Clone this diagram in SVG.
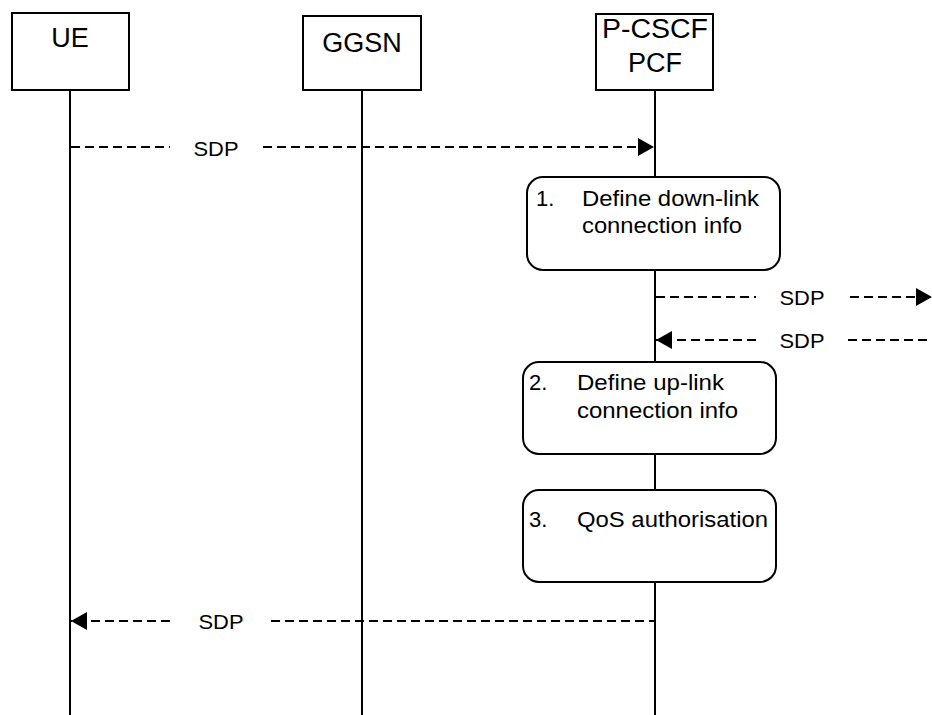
<svg xmlns="http://www.w3.org/2000/svg" width="932" height="715" viewBox="0 0 932 715">
<style>
.box{fill:#fff;stroke:#000;stroke-width:2}
.life{stroke:#000;stroke-width:2;fill:none}
.msg{stroke:#000;stroke-width:1.8;stroke-dasharray:9,5;fill:none}
.t{font-family:"Liberation Sans",Arial,sans-serif;fill:#000}
.big{font-size:27px;text-anchor:middle}
.mid{font-size:22px}
.lbl{font-size:21px;text-anchor:middle}
</style>
<defs>
<marker id="ah" markerWidth="16" markerHeight="18" refX="16" refY="9" orient="auto" markerUnits="userSpaceOnUse">
<path d="M0,0 L16,9 L0,18 Z" fill="#000"/>
</marker>
</defs>
<g id="lifelines">
<line class="life" x1="70" y1="90" x2="70" y2="715"/>
<line class="life" x1="362" y1="90" x2="362" y2="715"/>
<line class="life" x1="655" y1="90" x2="655" y2="715"/>
</g>
<g id="UE">
<rect class="box" x="12" y="13" width="117" height="77"/>
<text class="t big" x="70" y="47">UE</text>
</g>
<g id="GGSN">
<rect class="box" x="303" y="16" width="118" height="74"/>
<text class="t big" x="362" y="52">GGSN</text>
</g>
<g id="PCSCF">
<rect class="box" x="596" y="14" width="117" height="76"/>
<text class="t big" x="655" y="38" textLength="106" lengthAdjust="spacingAndGlyphs">P-CSCF</text>
<text class="t big" x="655" y="72">PCF</text>
</g>
<g id="step1">
<rect class="box" x="527" y="177" width="253" height="93" rx="16"/>
<text class="t mid" x="536" y="206">1.</text>
<text class="t mid" x="582" y="206" textLength="177" lengthAdjust="spacingAndGlyphs">Define down-link</text>
<text class="t mid" x="582" y="233" textLength="160" lengthAdjust="spacingAndGlyphs">connection info</text>
</g>
<g id="step2">
<rect class="box" x="523" y="362" width="253" height="92" rx="16"/>
<text class="t mid" x="529" y="390">2.</text>
<text class="t mid" x="577" y="390" textLength="147" lengthAdjust="spacingAndGlyphs">Define up-link</text>
<text class="t mid" x="577" y="418" textLength="161" lengthAdjust="spacingAndGlyphs">connection info</text>
</g>
<g id="step3">
<rect class="box" x="523" y="490" width="253" height="92" rx="16"/>
<text class="t mid" x="529" y="527">3.</text>
<text class="t mid" x="577" y="527" textLength="191" lengthAdjust="spacingAndGlyphs">QoS authorisation</text>
</g>
<g id="connectors">
<line class="msg" x1="71" y1="147" x2="170" y2="147"/>
<line class="msg" x1="263" y1="147" x2="654" y2="147" marker-end="url(#ah)"/>
<text class="t lbl" x="216" y="156" textLength="45" lengthAdjust="spacingAndGlyphs">SDP</text>
<line class="msg" x1="656" y1="297" x2="756" y2="297"/>
<line class="msg" x1="850" y1="297" x2="932" y2="297" marker-end="url(#ah)"/>
<text class="t lbl" x="802" y="305" textLength="45" lengthAdjust="spacingAndGlyphs">SDP</text>
<line class="msg" x1="756" y1="340" x2="656" y2="340" marker-end="url(#ah)"/>
<line class="msg" x1="848" y1="340" x2="932" y2="340"/>
<text class="t lbl" x="802" y="348" textLength="45" lengthAdjust="spacingAndGlyphs">SDP</text>
<line class="msg" x1="170" y1="621" x2="71" y2="621" marker-end="url(#ah)"/>
<line class="msg" x1="271" y1="621" x2="654" y2="621"/>
<text class="t lbl" x="221" y="629" textLength="45" lengthAdjust="spacingAndGlyphs">SDP</text>
</g>
</svg>
